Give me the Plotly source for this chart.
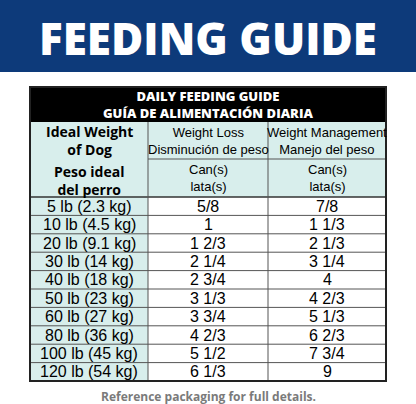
import plotly.graph_objects as go

weights = ["5 lb (2.3 kg)", "10 lb (4.5 kg)", "20 lb (9.1 kg)", "30 lb (14 kg)", "40 lb (18 kg)",
           "50 lb (23 kg)", "60 lb (27 kg)", "80 lb (36 kg)", "100 lb (45 kg)", "120 lb (54 kg)"]
weight_loss = ["5/8", "1", "1 2/3", "2 1/4", "2 3/4", "3 1/3", "3 3/4", "4 2/3", "5 1/2", "6 1/3"]
weight_mgmt = ["7/8", "1 1/3", "2 1/3", "3 1/4", "4", "4 2/3", "5 1/3", "6 2/3", "7 3/4", "9"]

W, H = 416, 404
x0, x1, x2, x3 = 30, 148, 268, 386
y_head, y_sub, y_mid, y_rows, y_end = 87, 122, 159, 197, 381
row_h = (y_end - y_rows) / len(weights)
teal = "#d8eeec"
body = "Liberation Sans Narrow, Arial Narrow, Liberation Sans, sans-serif"

fig = go.Figure()
shapes = [
    dict(type="rect", x0=0, x1=W, y0=0, y1=72, fillcolor="#0d3a7a", line_width=0),
    dict(type="rect", x0=x0, x1=x3, y0=y_head, y1=y_sub, fillcolor="black", line_width=0),
    dict(type="rect", x0=x0, x1=x3, y0=y_sub, y1=y_rows, fillcolor=teal, line_width=0),
    dict(type="rect", x0=x0, x1=x1, y0=y_rows, y1=y_end, fillcolor=teal, line_width=0),
]
grid = dict(color="#555", width=1)
for i in range(1, len(weights)):
    y = y_rows + i * row_h
    shapes.append(dict(type="line", x0=x0, x1=x3, y0=y, y1=y, line=grid))
shapes += [
    dict(type="line", x0=x0, x1=x3, y0=y_rows, y1=y_rows, line=dict(color="#333", width=1.5)),
    dict(type="line", x0=x1, x1=x3, y0=y_mid, y1=y_mid, line=grid),
    dict(type="line", x0=x1, x1=x1, y0=y_sub, y1=y_end, line=grid),
    dict(type="line", x0=x2, x1=x2, y0=y_sub, y1=y_end, line=grid),
    dict(type="rect", x0=x0, x1=x3, y0=y_head, y1=y_end, line=dict(color="#222", width=2)),
]

ann = []
def txt(x, y, s, size=16, color="black", family=body, weight="normal"):
    ann.append(dict(x=x, y=y, text=s, showarrow=False, xanchor="center", yanchor="middle",
                    font=dict(size=size, color=color, family=family, weight=weight)))

txt(W / 2, 38, "FEEDING GUIDE", size=44, color="white", family="Open Sans", weight=800)
txt((x0 + x3) / 2, 104.5, "DAILY FEEDING GUIDE<br>GUÍA DE ALIMENTACIÓN DIARIA", size=13,
    color="white", family="Open Sans", weight=800)
txt((x0 + x1) / 2, 140, "Ideal Weight<br>of Dog", size=14, family="Open Sans", weight=700)
txt((x0 + x1) / 2, 180, "Peso ideal<br>del perro", size=14, family="Open Sans", weight=700)
for xc, top in [((x1 + x2) / 2, "Weight Loss<br>Disminución de peso"),
                ((x2 + x3) / 2, "Weight Management<br>Manejo del peso")]:
    txt(xc, (y_sub + y_mid) / 2, top, size=13)
    txt(xc, (y_mid + y_rows) / 2, "Can(s)<br>lata(s)", size=13)
for i in range(len(weights)):
    yc = y_rows + (i + 0.5) * row_h
    txt((x0 + x1) / 2, yc, weights[i])
    txt((x1 + x2) / 2, yc, weight_loss[i])
    txt((x2 + x3) / 2, yc, weight_mgmt[i])
txt(W / 2, 396, "Reference packaging for full details.", size=12, color="#7a7a7a",
    family="Open Sans", weight=700)

fig.update_layout(width=W, height=H, margin=dict(l=0, r=0, t=0, b=0),
                  paper_bgcolor="white", plot_bgcolor="white", shapes=shapes, annotations=ann,
                  xaxis=dict(range=[0, W], visible=False, fixedrange=True),
                  yaxis=dict(range=[H, 0], visible=False, fixedrange=True), showlegend=False)
fig.write_html("out.html", config={"displayModeBar": False},
               post_script="document.body.style.margin='0';document.body.style.overflow='hidden';")
